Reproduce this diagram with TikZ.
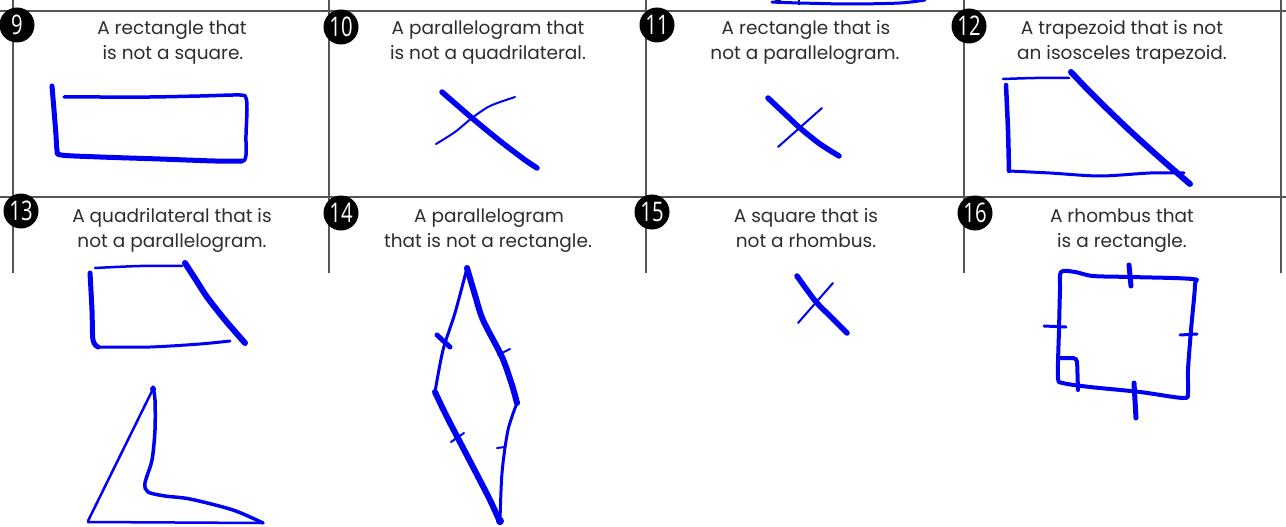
\documentclass[tikz,border=0pt]{standalone}
\usepackage{fontspec}
\setmainfont{Poppins}
\newfontfamily\badgefont{Open Sans}
\definecolor{ink}{RGB}{0,0,245}
\definecolor{grid}{RGB}{85,85,85}
\definecolor{txt}{RGB}{45,45,45}
\tikzset{
  pen/.style={draw=ink, line cap=round, line join=round},
  gridline/.style={draw=grid, line width=2},
  label/.style={text=txt, font=\fontsize{18.5}{19}\selectfont, anchor=base, inner sep=0},
  badge/.style={circle, fill=black, minimum size=35, inner sep=0, text=white,
    font=\badgefont\fontsize{27}{27}\selectfont},
}
\newcommand{\bnum}[1]{\scalebox{0.75}[1]{#1}}
\begin{document}
\begin{tikzpicture}[x=1pt,y=-1pt]
\useasboundingbox (0,0) rectangle (1286,527);
\clip (0,0) rectangle (1286,527);
\fill[white] (0,0) rectangle (1286,527);

% grid
\foreach \x in {13,329,646,964,1281} \draw[gridline] (\x,0) -- (\x,273);
\draw[gridline] (0,11) -- (1286,11);
\draw[gridline] (0,197) -- (1286,197);

% remnant of drawing above
\fill[black] (778,1) circle (3);
\draw[black, line width=2] (799,0) -- (799,5);
\draw[pen, line width=3] plot[smooth] coordinates {(772,2)(800,3)(850,4)(900,3)(925,0)};

% badges
\node[badge] (b9)  at (17,25)  {\bnum{9}};
\node[badge] (b10) at (341,27) {\bnum{10}};
\node[badge] (b11) at (657,25) {\bnum{11}};
\node[badge] (b12) at (969,26) {\bnum{12}};
\node[badge] (b13) at (21,211) {\bnum{13}};
\node[badge] (b14) at (341,213) {\bnum{14}};
\node[badge] (b15) at (652,212) {\bnum{15}};
\node[badge] (b16) at (975,213) {\bnum{16}};

% labels
\node[label] (t9a)  at (172,35) {A rectangle that};
\node[label] (t9b)  at (173,60) {is not a square.};
\node[label] (t10a) at (488,35) {A parallelogram that};
\node[label] (t10b) at (488,60) {is not a quadrilateral.};
\node[label] (t11a) at (806,35) {A rectangle that is};
\node[label] (t11b) at (805,60) {not a parallelogram.};
\node[label] (t12a) at (1122,35) {A trapezoid that is not};
\node[label] (t12b) at (1122,60) {an isosceles trapezoid.};
\node[label] (t13a) at (172,222) {A quadrilateral that is};
\node[label] (t13b) at (172,247) {not a parallelogram.};
\node[label] (t14a) at (489,222) {A parallelogram};
\node[label] (t14b) at (488,247) {that is not a rectangle.};
\node[label] (t15a) at (806,222) {A square that is};
\node[label] (t15b) at (806,247) {not a rhombus.};
\node[label] (t16a) at (1122,222) {A rhombus that};
\node[label] (t16b) at (1122,247) {is a rectangle.};

% 9: rectangle
\draw[pen, line width=5] plot[smooth] coordinates {(52,86)(54,110)(56,135)(57,150)(61,155)(100,157)(160,159)(215,161)(242,161)};
\draw[pen, line width=3.5] plot[smooth] coordinates {(64,97)(100,97)(150,97)(200,96)(240,95)(246,98)(247,110)(246,135)(246,155)(244,161)};

% 10: cross
\draw[pen, line width=5.5] plot[smooth] coordinates {(442,92)(472,118)(500,141)(525,160)(537,168)};
\draw[pen, line width=2] plot[smooth] coordinates {(436,144)(455,132)(472,118)(490,106)(515,97)};

% 11: cross
\draw[pen, line width=5.5] plot[smooth] coordinates {(768,98)(785,114)(800,128)(820,144)(839,156)};
\draw[pen, line width=2] (778,147) -- (822,108);

% 12: trapezoid
\draw[pen, line width=2.5] plot[smooth] coordinates {(1003,79)(1035,78)(1069,78)};
\draw[pen, line width=4.5] plot[smooth] coordinates {(1006,85)(1008,130)(1009,171)};
\draw[pen, line width=3] plot[smooth] coordinates {(1009,171)(1050,173)(1100,176)(1150,173)(1184,173)};
\draw[pen, line width=6] plot[smooth] coordinates {(1071,72)(1093,95)(1127,128)(1160,158)(1190,184)};

% 13: trapezoid
\draw[pen, line width=2.5] plot[smooth] coordinates {(95,268)(140,266)(182,266)};
\draw[pen, line width=5] plot[smooth] coordinates {(90,273)(92,310)(93,340)(98,347)};
\draw[pen, line width=3] plot[smooth] coordinates {(97,347)(150,347)(200,344)(230,341)};
\draw[pen, line width=6] plot[smooth] coordinates {(185,263)(196,280)(207,297)(225,320)(245,343)};
% 13: concave quadrilateral
\draw[pen, line width=2.5] (153,389) -- (88,521);
\draw[pen, line width=3.5] plot[smooth] coordinates {(153,387)(155,400)(155,430)(152,460)(145,483)(148,492)(165,496)(190,499)(233,510)(263,523)};
\draw[pen, line width=2.5] (88,522) -- (263,523);
\fill[ink] (153,389) circle (3);

% 14: parallelogram
\draw[pen, line width=6] plot[smooth] coordinates {(467,268)(475,295)(483,320)(502,357)(512,385)(517,403)};
\draw[pen, line width=3] plot[smooth] coordinates {(467,268)(455,313)(443,350)(435,392)};
\draw[pen, line width=6] plot[smooth] coordinates {(435,392)(447,417)(473,467)(490,500)(500,522)};
\draw[pen, line width=3] plot[smooth] coordinates {(517,403)(508,430)(502,473)(500,522)};
\draw[pen, line width=5] (437,335) -- (450,347);
\draw[pen, line width=2] (498,355) -- (510,349);
\draw[pen, line width=2] (451,442) -- (464,433);
\draw[pen, line width=2] (497,448) -- (505,447);
\fill[ink] (500,521) circle (4);

% 15: cross
\draw[pen, line width=5.5] plot[smooth] coordinates {(797,276)(807,290)(817,303)(832,318)(847,333)};
\draw[pen, line width=2] (798,323) -- (833,283);

% 16: square
\draw[pen, line width=4] plot[smooth cycle] coordinates {(1061,272)(1075,272)(1093,276)(1130,277)(1192,279)(1195,285)(1191,330)(1188,370)(1188,393)(1183,398)(1140,392)(1090,387)(1063,383)(1058,377)(1059,330)(1060,290)};
\draw[pen, line width=5] (1129,265) -- (1131,286);
\draw[pen, line width=3] (1044,326) -- (1066,327);
\draw[pen, line width=3] (1180,335) -- (1197,334);
\draw[pen, line width=5] (1134,383) -- (1136,418);
\draw[pen, line width=4, rounded corners=4] (1061,358) -- (1077,358) -- (1078,390);
\end{tikzpicture}
\end{document}
